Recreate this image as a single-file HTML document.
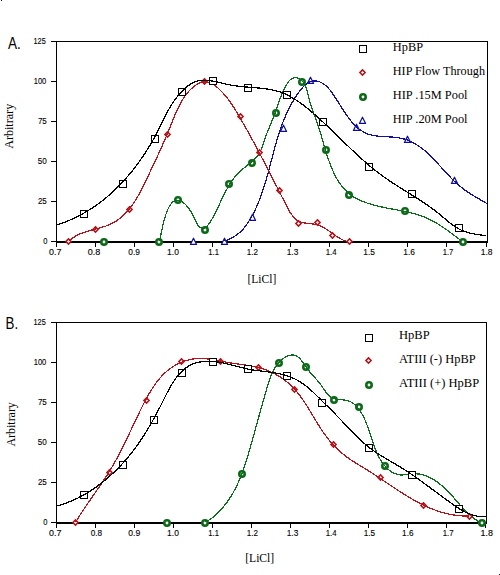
<!DOCTYPE html>
<html><head><meta charset="utf-8"><style>
html,body{margin:0;padding:0;background:#fff;width:500px;height:575px;overflow:hidden}
svg{display:block}
.t{font-family:"Liberation Sans",sans-serif;font-size:8.8px;fill:#000;stroke:#000;stroke-width:0.12px}
.s{font-family:"Liberation Serif",serif;font-size:12px;fill:#000}
.h{font-family:"Liberation Sans",sans-serif;font-size:16.5px;fill:#000}
</style></head><body>
<svg width="500" height="575" viewBox="0 0 500 575">
<rect width="500" height="575" fill="#fff"/>
<rect x="1" y="0" width="1" height="1" fill="#000"/><rect x="499" y="574" width="1" height="1" fill="#222"/>

<text class="t" x="47.5" y="244.2" text-anchor="end" textLength="4.2" lengthAdjust="spacingAndGlyphs">0</text>
<text class="t" x="46.8" y="204.2" text-anchor="end" textLength="8.9" lengthAdjust="spacingAndGlyphs">25</text>
<text class="t" x="46.8" y="164.2" text-anchor="end" textLength="9.0" lengthAdjust="spacingAndGlyphs">50</text>
<text class="t" x="46.8" y="124.2" text-anchor="end" textLength="8.9" lengthAdjust="spacingAndGlyphs">75</text>
<text class="t" x="46.3" y="84.2" text-anchor="end" textLength="12.6" lengthAdjust="spacingAndGlyphs">100</text>
<text class="t" x="45.8" y="44.2" text-anchor="end" textLength="12.3" lengthAdjust="spacingAndGlyphs">125</text>
<text class="t" x="49.1" y="255.2" textLength="12.4" lengthAdjust="spacingAndGlyphs">0.7</text>
<text class="t" x="87.7" y="255.2" textLength="12.6" lengthAdjust="spacingAndGlyphs">0.8</text>
<text class="t" x="128.3" y="255.2" textLength="11.6" lengthAdjust="spacingAndGlyphs">0.9</text>
<text class="t" x="167.1" y="255.2" textLength="11.8" lengthAdjust="spacingAndGlyphs">1.0</text>
<text class="t" x="208.3" y="255.2" textLength="10.6" lengthAdjust="spacingAndGlyphs">1.1</text>
<text class="t" x="246.7" y="255.2" textLength="11.2" lengthAdjust="spacingAndGlyphs">1.2</text>
<text class="t" x="286.7" y="255.2" textLength="11.6" lengthAdjust="spacingAndGlyphs">1.3</text>
<text class="t" x="325.7" y="255.2" textLength="10.8" lengthAdjust="spacingAndGlyphs">1.4</text>
<text class="t" x="363.3" y="255.2" textLength="11.6" lengthAdjust="spacingAndGlyphs">1.5</text>
<text class="t" x="403.3" y="255.2" textLength="11.6" lengthAdjust="spacingAndGlyphs">1.6</text>
<text class="t" x="442.7" y="255.2" textLength="10.6" lengthAdjust="spacingAndGlyphs">1.7</text>
<text class="t" x="480.7" y="255.2" textLength="11.8" lengthAdjust="spacingAndGlyphs">1.8</text>
<g shape-rendering="crispEdges" stroke="#000" fill="none">
<path d="M51 41.5 H487.5 V242" stroke-width="1"/>
<path d="M56.5 41 V247" stroke-width="1"/>
<path d="M56 242 H488" stroke-width="2"/>
<path d="M51 241.5 H56" stroke-width="1"/>
<path d="M51 201.5 H56" stroke-width="1"/>
<path d="M51 161.5 H56" stroke-width="1"/>
<path d="M51 121.5 H56" stroke-width="1"/>
<path d="M51 81.5 H56" stroke-width="1"/>
<path d="M51 41.5 H56" stroke-width="1"/>
<path d="M56.5 243 V247" stroke-width="1"/>
<path d="M95.5 243 V247" stroke-width="1"/>
<path d="M134.5 243 V247" stroke-width="1"/>
<path d="M173.5 243 V247" stroke-width="1"/>
<path d="M212.5 243 V247" stroke-width="1"/>
<path d="M251.5 243 V247" stroke-width="1"/>
<path d="M290.5 243 V247" stroke-width="1"/>
<path d="M329.5 243 V247" stroke-width="1"/>
<path d="M368.5 243 V247" stroke-width="1"/>
<path d="M407.5 243 V247" stroke-width="1"/>
<path d="M446.5 243 V247" stroke-width="1"/>
<path d="M486.5 243 V247" stroke-width="1"/>
</g>
<clipPath id="c0"><rect x="57" y="42" width="430" height="199"/></clipPath>
<path d="M193.5 238.2 L196.6 244.4 L190.4 244.4 z" fill="#fff" stroke="#0c0c96" stroke-width="1.2" stroke-linejoin="round"/>
<path d="M224.5 238.2 L227.6 244.4 L221.4 244.4 z" fill="#fff" stroke="#0c0c96" stroke-width="1.2" stroke-linejoin="round"/>
<path d="M252.5 214.2 L255.6 220.4 L249.4 220.4 z" fill="#fff" stroke="#0c0c96" stroke-width="1.2" stroke-linejoin="round"/>
<path d="M283.5 125.2 L286.6 131.4 L280.4 131.4 z" fill="#fff" stroke="#0c0c96" stroke-width="1.2" stroke-linejoin="round"/>
<path d="M310.5 77.2 L313.6 83.4 L307.4 83.4 z" fill="#fff" stroke="#0c0c96" stroke-width="1.2" stroke-linejoin="round"/>
<path d="M356.5 124.2 L359.6 130.4 L353.4 130.4 z" fill="#fff" stroke="#0c0c96" stroke-width="1.2" stroke-linejoin="round"/>
<path d="M407.5 136.2 L410.6 142.4 L404.4 142.4 z" fill="#fff" stroke="#0c0c96" stroke-width="1.2" stroke-linejoin="round"/>
<path d="M454.5 177.2 L457.6 183.4 L451.4 183.4 z" fill="#fff" stroke="#0c0c96" stroke-width="1.2" stroke-linejoin="round"/>
<path clip-path="url(#c0)" d="M193.59 241.60 L194.54 241.93 L195.51 242.23 L196.50 242.50 L197.51 242.74 L198.54 242.96 L199.58 243.15 L200.64 243.32 L201.72 243.46 L202.81 243.58 L203.91 243.67 L205.02 243.73 L206.14 243.77 L207.27 243.79 L208.41 243.77 L209.55 243.74 L210.70 243.68 L211.86 243.59 L213.01 243.48 L214.17 243.34 L215.32 243.18 L216.48 242.99 L217.63 242.78 L218.78 242.55 L219.93 242.29 L221.07 242.01 L222.20 241.70 L223.32 241.37 L224.44 241.01 L225.54 240.63 L226.63 240.23 L227.71 239.80 L228.78 239.35 L229.83 238.88 L230.86 238.38 L231.88 237.86 L232.87 237.31 L233.85 236.74 L234.81 236.15 L235.74 235.54 L236.65 234.90 L237.54 234.24 L238.40 233.56 L239.23 232.86 L240.05 232.13 L240.84 231.39 L241.62 230.63 L242.37 229.85 L243.10 229.05 L243.81 228.24 L244.51 227.41 L245.19 226.57 L245.85 225.71 L246.49 224.84 L247.12 223.96 L247.74 223.07 L248.34 222.17 L248.92 221.25 L249.50 220.33 L250.06 219.40 L250.62 218.46 L251.16 217.52 L251.69 216.57 L252.22 215.62 L252.73 214.66 L253.24 213.69 L253.73 212.73 L254.22 211.75 L254.70 210.77 L255.18 209.79 L255.64 208.80 L256.10 207.81 L256.55 206.82 L256.99 205.82 L257.43 204.81 L257.85 203.81 L258.27 202.80 L258.69 201.78 L259.10 200.76 L259.50 199.74 L259.89 198.71 L260.28 197.68 L260.67 196.65 L261.04 195.62 L261.42 194.58 L261.78 193.53 L262.15 192.49 L262.50 191.44 L262.85 190.39 L263.20 189.34 L263.54 188.28 L263.88 187.23 L264.22 186.17 L264.55 185.10 L264.87 184.04 L265.20 182.97 L265.52 181.90 L265.83 180.83 L266.15 179.76 L266.46 178.69 L266.76 177.61 L267.07 176.53 L267.37 175.45 L267.67 174.37 L267.97 173.29 L268.26 172.21 L268.56 171.13 L268.85 170.04 L269.14 168.96 L269.43 167.87 L269.72 166.79 L270.01 165.70 L270.29 164.61 L270.58 163.52 L270.87 162.44 L271.15 161.35 L271.44 160.26 L271.72 159.17 L272.01 158.08 L272.30 156.99 L272.58 155.91 L272.87 154.82 L273.16 153.73 L273.45 152.64 L273.74 151.56 L274.04 150.47 L274.33 149.39 L274.63 148.30 L274.92 147.22 L275.22 146.14 L275.53 145.06 L275.83 143.98 L276.14 142.90 L276.45 141.83 L276.76 140.75 L277.08 139.68 L277.40 138.61 L277.73 137.54 L278.05 136.47 L278.38 135.41 L278.72 134.34 L279.06 133.28 L279.41 132.22 L279.76 131.16 L280.11 130.10 L280.47 129.05 L280.83 127.99 L281.20 126.94 L281.58 125.89 L281.96 124.85 L282.35 123.80 L282.74 122.76 L283.14 121.72 L283.55 120.69 L283.96 119.65 L284.39 118.62 L284.81 117.59 L285.25 116.57 L285.69 115.54 L286.14 114.52 L286.60 113.50 L287.07 112.49 L287.54 111.47 L288.03 110.46 L288.52 109.46 L289.02 108.45 L289.53 107.45 L290.05 106.46 L290.58 105.46 L291.12 104.47 L291.66 103.48 L292.22 102.50 L292.79 101.52 L293.37 100.54 L293.96 99.57 L294.56 98.59 L295.17 97.63 L295.79 96.66 L296.42 95.70 L297.07 94.75 L297.73 93.80 L298.39 92.85 L299.07 91.90 L299.77 90.97 L300.47 90.05 L301.19 89.14 L301.92 88.26 L302.67 87.41 L303.43 86.59 L304.20 85.80 L304.99 85.06 L305.79 84.37 L306.61 83.72 L307.44 83.13 L308.29 82.60 L309.16 82.14 L310.04 81.75 L310.94 81.43 L311.85 81.19 L312.78 81.02 L313.71 80.93 L314.66 80.90 L315.61 80.95 L316.56 81.07 L317.52 81.25 L318.47 81.49 L319.41 81.80 L320.35 82.16 L321.28 82.59 L322.19 83.07 L323.08 83.60 L323.96 84.19 L324.82 84.83 L325.65 85.51 L326.47 86.24 L327.26 87.01 L328.04 87.82 L328.79 88.66 L329.54 89.53 L330.26 90.43 L330.98 91.36 L331.68 92.30 L332.37 93.27 L333.05 94.25 L333.72 95.24 L334.39 96.24 L335.05 97.24 L335.70 98.25 L336.35 99.26 L337.00 100.27 L337.64 101.28 L338.28 102.29 L338.91 103.30 L339.55 104.31 L340.18 105.32 L340.82 106.32 L341.45 107.32 L342.08 108.31 L342.72 109.30 L343.35 110.29 L343.99 111.26 L344.63 112.23 L345.27 113.19 L345.92 114.14 L346.57 115.08 L347.23 116.01 L347.89 116.93 L348.55 117.83 L349.23 118.73 L349.90 119.60 L350.59 120.47 L351.29 121.32 L351.99 122.15 L352.70 122.97 L353.42 123.77 L354.16 124.55 L354.90 125.31 L355.65 126.05 L356.42 126.77 L357.20 127.47 L357.99 128.14 L358.79 128.80 L359.61 129.43 L360.44 130.04 L361.29 130.62 L362.16 131.17 L363.03 131.70 L363.93 132.20 L364.84 132.67 L365.78 133.12 L366.72 133.53 L367.69 133.92 L368.68 134.27 L369.69 134.59 L370.71 134.88 L371.76 135.14 L372.82 135.37 L373.90 135.57 L375.00 135.75 L376.11 135.91 L377.23 136.05 L378.37 136.17 L379.51 136.28 L380.66 136.38 L381.82 136.46 L382.99 136.54 L384.16 136.61 L385.34 136.67 L386.51 136.74 L387.69 136.80 L388.87 136.87 L390.05 136.94 L391.23 137.02 L392.40 137.10 L393.57 137.20 L394.73 137.31 L395.89 137.44 L397.03 137.58 L398.17 137.74 L399.30 137.93 L400.41 138.14 L401.51 138.37 L402.59 138.63 L403.67 138.91 L404.73 139.22 L405.78 139.55 L406.81 139.91 L407.84 140.29 L408.85 140.69 L409.85 141.11 L410.83 141.55 L411.81 142.02 L412.78 142.50 L413.73 143.01 L414.67 143.53 L415.61 144.07 L416.53 144.63 L417.44 145.20 L418.35 145.80 L419.24 146.41 L420.12 147.03 L421.00 147.67 L421.86 148.33 L422.72 149.00 L423.57 149.68 L424.41 150.37 L425.25 151.08 L426.07 151.80 L426.90 152.53 L427.71 153.28 L428.52 154.03 L429.32 154.79 L430.12 155.56 L430.91 156.34 L431.70 157.13 L432.49 157.93 L433.27 158.73 L434.04 159.54 L434.82 160.35 L435.59 161.17 L436.36 162.00 L437.12 162.83 L437.89 163.66 L438.65 164.50 L439.41 165.33 L440.17 166.17 L440.93 167.02 L441.69 167.86 L442.45 168.70 L443.21 169.54 L443.97 170.38 L444.73 171.23 L445.50 172.06 L446.26 172.90 L447.03 173.73 L447.80 174.56 L448.58 175.39 L449.35 176.21 L450.13 177.02 L450.92 177.83 L451.71 178.64 L452.50 179.43 L453.30 180.22 L454.10 181.00 L454.91 181.77 L455.73 182.54 L456.55 183.29 L457.38 184.03 L458.21 184.77 L459.05 185.49 L459.90 186.20 L460.76 186.90 L461.62 187.58 L462.50 188.25 L463.38 188.92 L464.27 189.57 L465.16 190.21 L466.06 190.84 L466.97 191.47 L467.88 192.08 L468.80 192.69 L469.73 193.29 L470.66 193.89 L471.59 194.48 L472.53 195.06 L473.47 195.64 L474.42 196.22 L475.37 196.79 L476.33 197.36 L477.29 197.92 L478.25 198.49 L479.21 199.05 L480.18 199.61 L481.15 200.18 L482.12 200.74 L483.09 201.31 L484.06 201.87 L485.04 202.44 L486.01 203.01 L486.99 203.59" fill="none" stroke="#10109c" stroke-width="1.25" shape-rendering="crispEdges"/>
<circle cx="104.0" cy="242.0" r="2.7" fill="#fff" stroke="#0a6a16" stroke-width="2.6"/>
<circle cx="159.0" cy="242.0" r="2.7" fill="#fff" stroke="#0a6a16" stroke-width="2.6"/>
<circle cx="178.0" cy="200.0" r="2.7" fill="#fff" stroke="#0a6a16" stroke-width="2.6"/>
<circle cx="205.0" cy="230.0" r="2.7" fill="#fff" stroke="#0a6a16" stroke-width="2.6"/>
<circle cx="229.0" cy="184.0" r="2.7" fill="#fff" stroke="#0a6a16" stroke-width="2.6"/>
<circle cx="252.0" cy="163.0" r="2.7" fill="#fff" stroke="#0a6a16" stroke-width="2.6"/>
<circle cx="276.0" cy="113.0" r="2.7" fill="#fff" stroke="#0a6a16" stroke-width="2.6"/>
<circle cx="302.0" cy="82.0" r="2.7" fill="#fff" stroke="#0a6a16" stroke-width="2.6"/>
<circle cx="326.0" cy="150.0" r="2.7" fill="#fff" stroke="#0a6a16" stroke-width="2.6"/>
<circle cx="349.0" cy="195.0" r="2.7" fill="#fff" stroke="#0a6a16" stroke-width="2.6"/>
<circle cx="405.0" cy="211.0" r="2.7" fill="#fff" stroke="#0a6a16" stroke-width="2.6"/>
<circle cx="463.0" cy="242.0" r="2.7" fill="#fff" stroke="#0a6a16" stroke-width="2.6"/>
<path clip-path="url(#c0)" d="M103.99 242.01 L107.21 243.61 L110.29 245.10 L113.24 246.48 L116.06 247.75 L118.77 248.92 L121.35 249.98 L123.82 250.94 L126.18 251.80 L128.42 252.56 L130.56 253.22 L132.59 253.79 L134.53 254.27 L136.36 254.66 L138.10 254.95 L139.75 255.17 L141.31 255.30 L142.78 255.34 L144.18 255.31 L145.49 255.20 L146.72 255.02 L147.88 254.76 L148.97 254.43 L149.99 254.03 L150.95 253.56 L151.84 253.03 L152.68 252.43 L153.46 251.77 L154.19 251.06 L154.87 250.28 L155.50 249.45 L156.09 248.57 L156.64 247.64 L157.15 246.66 L157.63 245.63 L158.07 244.56 L158.49 243.44 L158.88 242.29 L159.25 241.09 L159.60 239.86 L159.94 238.60 L160.26 237.30 L160.57 235.97 L160.87 234.62 L161.17 233.24 L161.47 231.83 L161.77 230.41 L162.08 228.96 L162.39 227.49 L162.72 226.01 L163.05 224.52 L163.41 223.01 L163.79 221.50 L164.19 219.97 L164.61 218.44 L165.07 216.91 L165.55 215.38 L166.08 213.85 L166.63 212.33 L167.23 210.85 L167.86 209.40 L168.52 208.01 L169.23 206.70 L169.97 205.46 L170.75 204.32 L171.57 203.29 L172.43 202.38 L173.33 201.61 L174.27 200.99 L175.25 200.54 L176.27 200.26 L177.34 200.17 L178.44 200.28 L179.58 200.58 L180.74 201.06 L181.91 201.70 L183.08 202.49 L184.25 203.42 L185.41 204.46 L186.54 205.62 L187.63 206.88 L188.68 208.22 L189.68 209.62 L190.61 211.09 L191.48 212.59 L192.29 214.12 L193.05 215.66 L193.78 217.19 L194.48 218.69 L195.18 220.14 L195.87 221.53 L196.56 222.84 L197.28 224.05 L198.03 225.14 L198.82 226.10 L199.67 226.91 L200.58 227.55 L201.54 228.00 L202.53 228.23 L203.52 228.23 L204.50 227.97 L205.46 227.46 L206.39 226.75 L207.29 225.85 L208.18 224.81 L209.03 223.66 L209.87 222.43 L210.68 221.15 L211.47 219.86 L212.24 218.54 L212.98 217.20 L213.72 215.85 L214.43 214.49 L215.13 213.13 L215.82 211.76 L216.49 210.39 L217.15 209.03 L217.81 207.67 L218.46 206.31 L219.10 204.95 L219.73 203.60 L220.37 202.26 L221.00 200.91 L221.63 199.58 L222.26 198.25 L222.90 196.93 L223.54 195.62 L224.18 194.31 L224.83 193.02 L225.50 191.73 L226.16 190.45 L226.85 189.19 L227.54 187.94 L228.25 186.70 L228.97 185.47 L229.71 184.26 L230.47 183.06 L231.25 181.88 L232.05 180.71 L232.88 179.55 L233.73 178.42 L234.60 177.30 L235.50 176.20 L236.43 175.12 L237.39 174.06 L238.38 173.02 L239.41 172.00 L240.47 171.00 L241.56 170.02 L242.68 169.06 L243.82 168.11 L244.98 167.17 L246.14 166.24 L247.32 165.30 L248.48 164.37 L249.65 163.42 L250.80 162.47 L251.93 161.50 L253.03 160.52 L254.11 159.51 L255.15 158.48 L256.15 157.42 L257.10 156.33 L258.00 155.20 L258.84 154.02 L259.61 152.81 L260.32 151.55 L260.94 150.23 L261.50 148.86 L261.99 147.46 L262.45 146.03 L262.89 144.59 L263.34 143.16 L263.81 141.73 L264.28 140.32 L264.78 138.93 L265.28 137.54 L265.80 136.16 L266.32 134.78 L266.85 133.42 L267.39 132.06 L267.94 130.71 L268.49 129.36 L269.04 128.01 L269.60 126.67 L270.15 125.33 L270.71 124.00 L271.26 122.66 L271.81 121.33 L272.35 119.99 L272.89 118.65 L273.43 117.31 L273.95 115.96 L274.47 114.61 L274.97 113.26 L275.46 111.90 L275.94 110.53 L276.42 109.16 L276.89 107.78 L277.35 106.40 L277.82 105.02 L278.29 103.64 L278.77 102.25 L279.25 100.86 L279.75 99.48 L280.25 98.09 L280.78 96.71 L281.32 95.32 L281.89 93.95 L282.48 92.57 L283.09 91.20 L283.74 89.83 L284.42 88.47 L285.14 87.11 L285.89 85.77 L286.68 84.43 L287.52 83.11 L288.40 81.87 L289.34 80.71 L290.34 79.70 L291.40 78.85 L292.52 78.20 L293.71 77.79 L294.95 77.61 L296.21 77.68 L297.49 77.99 L298.74 78.51 L299.96 79.22 L301.11 80.09 L302.18 81.09 L303.13 82.20 L303.98 83.41 L304.73 84.69 L305.40 86.04 L306.00 87.46 L306.53 88.92 L307.00 90.43 L307.44 91.96 L307.83 93.51 L308.21 95.06 L308.57 96.61 L308.93 98.14 L309.30 99.65 L309.68 101.12 L310.08 102.56 L310.49 103.97 L310.91 105.34 L311.35 106.70 L311.80 108.03 L312.25 109.35 L312.71 110.65 L313.18 111.94 L313.66 113.21 L314.13 114.49 L314.61 115.76 L315.09 117.03 L315.57 118.30 L316.04 119.58 L316.51 120.87 L316.97 122.17 L317.43 123.49 L317.88 124.82 L318.33 126.17 L318.77 127.53 L319.20 128.91 L319.63 130.30 L320.06 131.70 L320.48 133.11 L320.90 134.54 L321.32 135.97 L321.74 137.41 L322.16 138.85 L322.58 140.30 L323.00 141.76 L323.43 143.22 L323.85 144.69 L324.28 146.15 L324.72 147.62 L325.15 149.09 L325.60 150.56 L326.05 152.02 L326.50 153.49 L326.97 154.95 L327.44 156.41 L327.92 157.86 L328.41 159.30 L328.92 160.74 L329.43 162.17 L329.95 163.59 L330.49 165.00 L331.04 166.40 L331.60 167.79 L332.18 169.17 L332.77 170.53 L333.38 171.88 L334.01 173.21 L334.65 174.52 L335.31 175.82 L335.99 177.10 L336.69 178.36 L337.41 179.60 L338.15 180.82 L338.91 182.02 L339.70 183.19 L340.50 184.34 L341.33 185.47 L342.18 186.56 L343.06 187.64 L343.97 188.68 L344.90 189.70 L345.86 190.68 L346.84 191.64 L347.85 192.56 L348.90 193.45 L349.97 194.31 L351.07 195.13 L352.20 195.93 L353.36 196.69 L354.55 197.41 L355.76 198.11 L356.99 198.78 L358.25 199.43 L359.54 200.04 L360.84 200.63 L362.16 201.20 L363.51 201.74 L364.87 202.26 L366.24 202.75 L367.64 203.23 L369.05 203.69 L370.47 204.12 L371.90 204.54 L373.35 204.95 L374.81 205.34 L376.28 205.71 L377.75 206.07 L379.23 206.42 L380.72 206.75 L382.22 207.08 L383.72 207.39 L385.22 207.70 L386.72 208.00 L388.22 208.29 L389.73 208.58 L391.23 208.87 L392.73 209.15 L394.23 209.42 L395.72 209.70 L397.20 209.97 L398.68 210.25 L400.15 210.53 L401.62 210.81 L403.07 211.09 L404.51 211.38 L405.94 211.68 L407.36 211.98 L408.76 212.29 L410.16 212.61 L411.54 212.94 L412.92 213.29 L414.29 213.65 L415.64 214.02 L416.99 214.42 L418.34 214.83 L419.67 215.26 L421.01 215.72 L422.33 216.20 L423.65 216.71 L424.97 217.24 L426.29 217.81 L427.60 218.40 L428.91 219.02 L430.21 219.66 L431.51 220.33 L432.81 221.03 L434.10 221.75 L435.39 222.49 L436.67 223.24 L437.95 224.02 L439.22 224.81 L440.49 225.62 L441.75 226.44 L443.00 227.27 L444.24 228.11 L445.48 228.97 L446.71 229.83 L447.93 230.70 L449.14 231.57 L450.34 232.44 L451.54 233.32 L452.72 234.20 L453.90 235.08 L455.06 235.96 L456.21 236.83 L457.35 237.70 L458.49 238.56 L459.60 239.41 L460.71 240.25 L461.81 241.09 L462.89 241.91" fill="none" stroke="#0c6e1c" stroke-width="1.25" shape-rendering="crispEdges"/>
<path d="M68.5 238.9 l2.6 2.6 l-2.6 2.6 l-2.6 -2.6 z" fill="#fff" stroke="#b01018" stroke-width="1.5"/>
<path d="M95.5 226.9 l2.6 2.6 l-2.6 2.6 l-2.6 -2.6 z" fill="#fff" stroke="#b01018" stroke-width="1.5"/>
<path d="M129.5 206.9 l2.6 2.6 l-2.6 2.6 l-2.6 -2.6 z" fill="#fff" stroke="#b01018" stroke-width="1.5"/>
<path d="M167.5 131.9 l2.6 2.6 l-2.6 2.6 l-2.6 -2.6 z" fill="#fff" stroke="#b01018" stroke-width="1.5"/>
<path d="M204.5 78.9 l2.6 2.6 l-2.6 2.6 l-2.6 -2.6 z" fill="#fff" stroke="#b01018" stroke-width="1.5"/>
<path d="M240.5 113.9 l2.6 2.6 l-2.6 2.6 l-2.6 -2.6 z" fill="#fff" stroke="#b01018" stroke-width="1.5"/>
<path d="M259.5 149.9 l2.6 2.6 l-2.6 2.6 l-2.6 -2.6 z" fill="#fff" stroke="#b01018" stroke-width="1.5"/>
<path d="M279.5 187.9 l2.6 2.6 l-2.6 2.6 l-2.6 -2.6 z" fill="#fff" stroke="#b01018" stroke-width="1.5"/>
<path d="M298.5 220.9 l2.6 2.6 l-2.6 2.6 l-2.6 -2.6 z" fill="#fff" stroke="#b01018" stroke-width="1.5"/>
<path d="M317.5 219.9 l2.6 2.6 l-2.6 2.6 l-2.6 -2.6 z" fill="#fff" stroke="#b01018" stroke-width="1.5"/>
<path d="M332.5 232.9 l2.6 2.6 l-2.6 2.6 l-2.6 -2.6 z" fill="#fff" stroke="#b01018" stroke-width="1.5"/>
<path d="M349.5 238.9 l2.6 2.6 l-2.6 2.6 l-2.6 -2.6 z" fill="#fff" stroke="#b01018" stroke-width="1.5"/>
<path clip-path="url(#c0)" d="M68.87 241.68 L69.62 240.86 L70.40 240.08 L71.20 239.33 L72.04 238.62 L72.91 237.95 L73.80 237.32 L74.71 236.71 L75.65 236.14 L76.61 235.59 L77.58 235.07 L78.58 234.58 L79.60 234.11 L80.63 233.67 L81.68 233.25 L82.75 232.84 L83.83 232.45 L84.92 232.08 L86.02 231.73 L87.12 231.38 L88.24 231.05 L89.37 230.73 L90.50 230.41 L91.63 230.11 L92.77 229.80 L93.91 229.50 L95.06 229.20 L96.20 228.90 L97.34 228.60 L98.47 228.29 L99.61 227.98 L100.74 227.67 L101.86 227.34 L102.97 227.00 L104.08 226.66 L105.17 226.29 L106.25 225.92 L107.32 225.52 L108.38 225.11 L109.42 224.68 L110.45 224.23 L111.46 223.75 L112.45 223.25 L113.42 222.73 L114.38 222.19 L115.32 221.63 L116.24 221.04 L117.15 220.44 L118.04 219.81 L118.92 219.17 L119.79 218.50 L120.63 217.82 L121.47 217.12 L122.29 216.40 L123.09 215.66 L123.89 214.91 L124.67 214.14 L125.43 213.36 L126.19 212.56 L126.93 211.74 L127.66 210.91 L128.38 210.07 L129.08 209.21 L129.78 208.35 L130.46 207.46 L131.14 206.57 L131.80 205.66 L132.45 204.75 L133.10 203.82 L133.73 202.88 L134.36 201.93 L134.98 200.98 L135.58 200.01 L136.18 199.04 L136.78 198.05 L137.36 197.07 L137.94 196.07 L138.51 195.07 L139.07 194.06 L139.63 193.04 L140.18 192.02 L140.73 191.00 L141.27 189.97 L141.80 188.94 L142.33 187.91 L142.85 186.87 L143.38 185.83 L143.89 184.79 L144.40 183.74 L144.91 182.70 L145.42 181.65 L145.92 180.61 L146.42 179.57 L146.92 178.52 L147.42 177.48 L147.91 176.44 L148.40 175.40 L148.90 174.37 L149.39 173.34 L149.87 172.31 L150.36 171.28 L150.85 170.25 L151.33 169.23 L151.82 168.21 L152.30 167.19 L152.78 166.17 L153.26 165.15 L153.74 164.13 L154.22 163.12 L154.69 162.10 L155.17 161.09 L155.64 160.08 L156.11 159.07 L156.58 158.05 L157.05 157.04 L157.52 156.03 L157.99 155.02 L158.45 154.01 L158.91 153.00 L159.38 151.98 L159.84 150.97 L160.30 149.96 L160.76 148.94 L161.21 147.93 L161.67 146.91 L162.12 145.90 L162.57 144.88 L163.03 143.86 L163.48 142.84 L163.92 141.81 L164.37 140.79 L164.82 139.76 L165.26 138.73 L165.71 137.70 L166.15 136.67 L166.59 135.63 L167.03 134.59 L167.46 133.55 L167.90 132.51 L168.33 131.46 L168.77 130.41 L169.20 129.36 L169.63 128.30 L170.06 127.24 L170.48 126.18 L170.91 125.11 L171.34 124.04 L171.76 122.96 L172.19 121.89 L172.61 120.81 L173.04 119.73 L173.47 118.65 L173.91 117.58 L174.35 116.50 L174.79 115.42 L175.24 114.35 L175.69 113.28 L176.15 112.21 L176.62 111.15 L177.10 110.09 L177.58 109.04 L178.08 107.99 L178.58 106.95 L179.10 105.91 L179.62 104.89 L180.16 103.87 L180.71 102.86 L181.27 101.85 L181.85 100.86 L182.44 99.88 L183.05 98.91 L183.67 97.95 L184.31 97.01 L184.97 96.07 L185.64 95.15 L186.34 94.25 L187.05 93.36 L187.78 92.48 L188.54 91.62 L189.31 90.78 L190.11 89.95 L190.93 89.14 L191.77 88.35 L192.63 87.59 L193.51 86.85 L194.40 86.15 L195.31 85.49 L196.24 84.87 L197.18 84.30 L198.13 83.78 L199.08 83.31 L200.05 82.91 L201.02 82.57 L202.00 82.30 L202.98 82.10 L203.96 81.98 L204.94 81.94 L205.92 81.98 L206.89 82.10 L207.87 82.30 L208.84 82.56 L209.80 82.89 L210.77 83.28 L211.72 83.74 L212.67 84.25 L213.61 84.81 L214.55 85.42 L215.47 86.07 L216.39 86.77 L217.29 87.50 L218.19 88.27 L219.07 89.06 L219.94 89.89 L220.80 90.74 L221.64 91.60 L222.47 92.49 L223.29 93.39 L224.08 94.29 L224.86 95.20 L225.63 96.12 L226.37 97.03 L227.10 97.95 L227.82 98.87 L228.52 99.80 L229.21 100.73 L229.88 101.66 L230.55 102.59 L231.20 103.53 L231.84 104.47 L232.47 105.41 L233.09 106.35 L233.70 107.29 L234.30 108.24 L234.90 109.19 L235.49 110.14 L236.07 111.10 L236.65 112.05 L237.23 113.01 L237.80 113.97 L238.36 114.93 L238.93 115.89 L239.49 116.86 L240.06 117.82 L240.62 118.79 L241.18 119.76 L241.74 120.73 L242.29 121.71 L242.85 122.68 L243.41 123.65 L243.96 124.63 L244.52 125.61 L245.07 126.59 L245.62 127.57 L246.17 128.55 L246.72 129.54 L247.27 130.52 L247.82 131.51 L248.37 132.49 L248.91 133.48 L249.46 134.47 L250.00 135.46 L250.54 136.45 L251.09 137.44 L251.63 138.43 L252.17 139.43 L252.71 140.42 L253.25 141.42 L253.79 142.41 L254.32 143.41 L254.86 144.41 L255.39 145.41 L255.93 146.41 L256.46 147.41 L257.00 148.41 L257.53 149.41 L258.06 150.41 L258.59 151.41 L259.12 152.41 L259.65 153.42 L260.18 154.42 L260.71 155.43 L261.23 156.43 L261.76 157.43 L262.28 158.44 L262.81 159.44 L263.33 160.45 L263.86 161.45 L264.38 162.46 L264.90 163.47 L265.42 164.47 L265.94 165.48 L266.46 166.48 L266.98 167.49 L267.50 168.50 L268.02 169.50 L268.53 170.51 L269.05 171.51 L269.57 172.52 L270.08 173.53 L270.60 174.53 L271.11 175.54 L271.63 176.55 L272.14 177.56 L272.66 178.56 L273.17 179.57 L273.69 180.58 L274.20 181.59 L274.72 182.60 L275.23 183.61 L275.75 184.63 L276.26 185.64 L276.78 186.65 L277.30 187.67 L277.81 188.68 L278.33 189.70 L278.85 190.72 L279.36 191.74 L279.88 192.76 L280.40 193.78 L280.92 194.80 L281.44 195.83 L281.96 196.85 L282.48 197.88 L283.01 198.91 L283.53 199.94 L284.06 200.97 L284.58 202.00 L285.11 203.04 L285.64 204.07 L286.17 205.11 L286.70 206.15 L287.24 207.18 L287.78 208.21 L288.33 209.23 L288.89 210.23 L289.46 211.22 L290.04 212.19 L290.64 213.13 L291.25 214.05 L291.89 214.94 L292.54 215.80 L293.21 216.62 L293.90 217.41 L294.62 218.15 L295.36 218.84 L296.13 219.49 L296.94 220.09 L297.77 220.63 L298.63 221.12 L299.53 221.54 L300.46 221.91 L301.42 222.23 L302.41 222.50 L303.42 222.73 L304.45 222.94 L305.50 223.11 L306.56 223.26 L307.63 223.40 L308.71 223.53 L309.80 223.65 L310.89 223.78 L311.98 223.92 L313.06 224.07 L314.13 224.24 L315.20 224.44 L316.25 224.68 L317.29 224.95 L318.31 225.26 L319.31 225.61 L320.30 226.00 L321.28 226.42 L322.24 226.88 L323.19 227.36 L324.13 227.88 L325.06 228.41 L325.98 228.97 L326.90 229.56 L327.81 230.16 L328.72 230.77 L329.62 231.40 L330.52 232.04 L331.43 232.69 L332.33 233.34 L333.24 234.00 L334.15 234.66 L335.06 235.31 L335.99 235.96 L336.92 236.59 L337.87 237.21 L338.82 237.81 L339.80 238.39 L340.79 238.93 L341.80 239.44 L342.83 239.91 L343.88 240.34 L344.96 240.73 L346.07 241.06 L347.20 241.34 L348.37 241.56 L349.57 241.71" fill="none" stroke="#bb1219" stroke-width="1.25" shape-rendering="crispEdges"/>
<rect x="80.5" y="210.5" width="7" height="7" fill="#fff" stroke="#000" stroke-width="1"/>
<rect x="119.5" y="180.5" width="7" height="7" fill="#fff" stroke="#000" stroke-width="1"/>
<rect x="151.5" y="135.5" width="7" height="7" fill="#fff" stroke="#000" stroke-width="1"/>
<rect x="178.5" y="88.5" width="7" height="7" fill="#fff" stroke="#000" stroke-width="1"/>
<rect x="209.5" y="77.5" width="7" height="7" fill="#fff" stroke="#000" stroke-width="1"/>
<rect x="244.5" y="84.5" width="7" height="7" fill="#fff" stroke="#000" stroke-width="1"/>
<rect x="283.5" y="91.5" width="7" height="7" fill="#fff" stroke="#000" stroke-width="1"/>
<rect x="319.5" y="118.5" width="7" height="7" fill="#fff" stroke="#000" stroke-width="1"/>
<rect x="365.5" y="163.5" width="7" height="7" fill="#fff" stroke="#000" stroke-width="1"/>
<rect x="408.5" y="190.5" width="7" height="7" fill="#fff" stroke="#000" stroke-width="1"/>
<rect x="455.5" y="224.5" width="7" height="7" fill="#fff" stroke="#000" stroke-width="1"/>
<path clip-path="url(#c0)" d="M55.79 225.28 L57.13 224.86 L58.47 224.42 L59.80 223.98 L61.12 223.52 L62.44 223.05 L63.75 222.57 L65.05 222.08 L66.34 221.57 L67.63 221.05 L68.90 220.52 L70.18 219.97 L71.44 219.42 L72.70 218.85 L73.95 218.27 L75.19 217.68 L76.42 217.08 L77.65 216.47 L78.87 215.84 L80.08 215.21 L81.29 214.56 L82.49 213.90 L83.68 213.23 L84.86 212.55 L86.04 211.86 L87.21 211.16 L88.37 210.45 L89.53 209.73 L90.68 209.00 L91.82 208.26 L92.95 207.51 L94.08 206.74 L95.20 205.97 L96.31 205.19 L97.42 204.40 L98.52 203.60 L99.61 202.79 L100.70 201.97 L101.77 201.14 L102.84 200.31 L103.91 199.46 L104.96 198.61 L106.01 197.74 L107.06 196.87 L108.09 195.99 L109.12 195.10 L110.14 194.20 L111.16 193.30 L112.16 192.38 L113.16 191.46 L114.16 190.53 L115.14 189.59 L116.12 188.65 L117.10 187.70 L118.06 186.74 L119.02 185.77 L119.97 184.79 L120.92 183.81 L121.86 182.82 L122.79 181.82 L123.71 180.82 L124.63 179.81 L125.54 178.80 L126.44 177.77 L127.34 176.74 L128.23 175.71 L129.11 174.66 L129.99 173.62 L130.86 172.56 L131.72 171.50 L132.58 170.44 L133.43 169.36 L134.27 168.29 L135.11 167.20 L135.94 166.12 L136.76 165.02 L137.57 163.92 L138.38 162.82 L139.19 161.71 L139.98 160.60 L140.77 159.48 L141.55 158.36 L142.33 157.23 L143.10 156.10 L143.86 154.96 L144.61 153.82 L145.36 152.68 L146.10 151.53 L146.84 150.37 L147.57 149.22 L148.29 148.06 L149.00 146.90 L149.71 145.73 L150.41 144.56 L151.10 143.39 L151.78 142.21 L152.46 141.03 L153.13 139.85 L153.79 138.67 L154.44 137.49 L155.08 136.30 L155.72 135.11 L156.34 133.92 L156.96 132.73 L157.57 131.54 L158.17 130.34 L158.76 129.15 L159.35 127.95 L159.94 126.75 L160.52 125.56 L161.10 124.36 L161.68 123.16 L162.26 121.96 L162.85 120.76 L163.44 119.56 L164.03 118.36 L164.63 117.16 L165.23 115.96 L165.85 114.77 L166.47 113.57 L167.11 112.37 L167.76 111.18 L168.42 109.99 L169.09 108.79 L169.78 107.60 L170.49 106.41 L171.22 105.23 L171.97 104.04 L172.74 102.86 L173.53 101.68 L174.34 100.50 L175.18 99.33 L176.04 98.17 L176.91 97.02 L177.81 95.88 L178.73 94.77 L179.67 93.67 L180.63 92.60 L181.61 91.56 L182.61 90.54 L183.63 89.55 L184.66 88.60 L185.72 87.69 L186.79 86.82 L187.87 85.99 L188.98 85.20 L190.10 84.46 L191.23 83.78 L192.39 83.15 L193.55 82.57 L194.73 82.06 L195.93 81.60 L197.14 81.21 L198.36 80.89 L199.60 80.64 L200.85 80.45 L202.11 80.32 L203.38 80.26 L204.66 80.24 L205.96 80.28 L207.26 80.36 L208.58 80.48 L209.90 80.64 L211.23 80.84 L212.57 81.06 L213.92 81.32 L215.28 81.59 L216.64 81.89 L218.01 82.20 L219.38 82.52 L220.76 82.85 L222.15 83.18 L223.54 83.51 L224.93 83.84 L226.33 84.16 L227.72 84.47 L229.13 84.76 L230.53 85.03 L231.93 85.28 L233.34 85.52 L234.75 85.73 L236.15 85.93 L237.56 86.11 L238.97 86.28 L240.37 86.44 L241.78 86.59 L243.19 86.72 L244.59 86.85 L245.99 86.97 L247.39 87.09 L248.79 87.20 L250.19 87.31 L251.58 87.42 L252.97 87.53 L254.36 87.64 L255.74 87.75 L257.12 87.87 L258.49 87.99 L259.86 88.12 L261.23 88.26 L262.59 88.41 L263.94 88.57 L265.29 88.74 L266.63 88.93 L267.97 89.13 L269.30 89.35 L270.62 89.59 L271.93 89.84 L273.24 90.12 L274.54 90.42 L275.83 90.74 L277.11 91.09 L278.38 91.47 L279.64 91.87 L280.90 92.30 L282.14 92.76 L283.38 93.25 L284.60 93.77 L285.82 94.31 L287.03 94.88 L288.23 95.47 L289.42 96.09 L290.60 96.72 L291.78 97.39 L292.95 98.07 L294.10 98.77 L295.26 99.49 L296.40 100.23 L297.54 100.98 L298.67 101.76 L299.79 102.55 L300.90 103.35 L302.01 104.16 L303.12 104.99 L304.21 105.84 L305.31 106.69 L306.39 107.55 L307.47 108.42 L308.54 109.30 L309.61 110.19 L310.68 111.08 L311.73 111.98 L312.79 112.89 L313.84 113.80 L314.88 114.71 L315.92 115.63 L316.96 116.55 L317.99 117.47 L319.02 118.40 L320.04 119.33 L321.06 120.26 L322.08 121.19 L323.09 122.13 L324.10 123.07 L325.11 124.01 L326.12 124.96 L327.12 125.91 L328.12 126.85 L329.12 127.80 L330.11 128.76 L331.11 129.71 L332.10 130.66 L333.09 131.62 L334.08 132.57 L335.07 133.53 L336.05 134.48 L337.04 135.44 L338.02 136.40 L339.01 137.36 L339.99 138.31 L340.97 139.27 L341.95 140.22 L342.94 141.18 L343.92 142.13 L344.90 143.09 L345.89 144.04 L346.87 144.99 L347.85 145.94 L348.84 146.89 L349.83 147.83 L350.81 148.78 L351.80 149.72 L352.79 150.66 L353.79 151.60 L354.78 152.53 L355.78 153.46 L356.77 154.39 L357.77 155.32 L358.78 156.24 L359.78 157.16 L360.79 158.07 L361.80 158.98 L362.82 159.89 L363.83 160.79 L364.85 161.69 L365.88 162.59 L366.91 163.48 L367.94 164.36 L368.98 165.24 L370.02 166.12 L371.06 166.99 L372.11 167.85 L373.16 168.71 L374.22 169.56 L375.29 170.41 L376.35 171.25 L377.43 172.09 L378.51 172.91 L379.59 173.74 L380.68 174.55 L381.78 175.36 L382.88 176.16 L383.99 176.96 L385.10 177.74 L386.22 178.53 L387.35 179.30 L388.48 180.07 L389.61 180.84 L390.75 181.60 L391.89 182.36 L393.04 183.11 L394.19 183.86 L395.34 184.60 L396.49 185.34 L397.65 186.08 L398.81 186.82 L399.97 187.55 L401.13 188.29 L402.30 189.02 L403.46 189.75 L404.63 190.48 L405.80 191.20 L406.97 191.93 L408.13 192.66 L409.30 193.39 L410.47 194.12 L411.63 194.85 L412.80 195.58 L413.96 196.31 L415.13 197.05 L416.29 197.79 L417.44 198.53 L418.60 199.27 L419.75 200.02 L420.90 200.77 L422.05 201.52 L423.20 202.28 L424.34 203.05 L425.47 203.82 L426.60 204.59 L427.73 205.37 L428.85 206.16 L429.97 206.95 L431.08 207.75 L432.19 208.55 L433.29 209.37 L434.38 210.19 L435.47 211.02 L436.55 211.85 L437.62 212.70 L438.69 213.55 L439.75 214.42 L440.80 215.29 L441.84 216.16 L442.89 217.04 L443.93 217.92 L444.97 218.80 L446.01 219.68 L447.06 220.55 L448.11 221.41 L449.16 222.26 L450.23 223.10 L451.30 223.93 L452.38 224.73 L453.48 225.52 L454.59 226.28 L455.71 227.03 L456.85 227.74 L458.01 228.43 L459.19 229.08 L460.39 229.70 L461.62 230.29 L462.87 230.84 L464.14 231.35 L465.45 231.82 L466.78 232.24 L468.14 232.62 L469.51 232.97 L470.91 233.29 L472.32 233.58 L473.74 233.84 L475.16 234.09 L476.58 234.32 L478.00 234.55 L479.42 234.76 L480.82 234.98 L482.21 235.19 L483.58 235.41 L484.93 235.65 L486.25 235.89" fill="none" stroke="#000" stroke-width="1.25" shape-rendering="crispEdges"/>
<rect x="359.5" y="45.5" width="7" height="7" fill="#fff" stroke="#000" stroke-width="1"/>
<text class="s" x="392.8" y="50.5" textLength="30.2" lengthAdjust="spacingAndGlyphs">HpBP</text>
<path d="M362.5 69.9 l2.6 2.6 l-2.6 2.6 l-2.6 -2.6 z" fill="#fff" stroke="#b01018" stroke-width="1.5"/>
<text class="s" x="392.8" y="75.0" textLength="92.2" lengthAdjust="spacingAndGlyphs">HIP Flow Through</text>
<circle cx="363.0" cy="97.0" r="2.7" fill="#fff" stroke="#0a6a16" stroke-width="2.6"/>
<text class="s" x="392.8" y="98.9" textLength="74.7" lengthAdjust="spacingAndGlyphs">HIP .15M Pool</text>
<path d="M362.5 117.2 L365.6 123.4 L359.4 123.4 z" fill="#fff" stroke="#0c0c96" stroke-width="1.2" stroke-linejoin="round"/>
<text class="s" x="392.8" y="122.9" textLength="74.7" lengthAdjust="spacingAndGlyphs">HIP .20M Pool</text>
<text class="s" transform="translate(12.5 148.8) rotate(-90)" x="0" y="0" textLength="45.0" lengthAdjust="spacingAndGlyphs">Arbitrary</text>
<text class="h" x="8.0" y="48.6" textLength="12.8" lengthAdjust="spacingAndGlyphs">A.</text>
<text class="s" x="247.4" y="282.8" textLength="28.9" lengthAdjust="spacingAndGlyphs">[LiCl]</text>
<text class="t" x="47.5" y="525.2" text-anchor="end" textLength="4.2" lengthAdjust="spacingAndGlyphs">0</text>
<text class="t" x="46.8" y="485.2" text-anchor="end" textLength="8.9" lengthAdjust="spacingAndGlyphs">25</text>
<text class="t" x="46.8" y="445.2" text-anchor="end" textLength="9.0" lengthAdjust="spacingAndGlyphs">50</text>
<text class="t" x="46.8" y="405.2" text-anchor="end" textLength="8.9" lengthAdjust="spacingAndGlyphs">75</text>
<text class="t" x="46.3" y="365.2" text-anchor="end" textLength="12.6" lengthAdjust="spacingAndGlyphs">100</text>
<text class="t" x="45.8" y="325.2" text-anchor="end" textLength="12.3" lengthAdjust="spacingAndGlyphs">125</text>
<text class="t" x="49.1" y="536.2" textLength="12.4" lengthAdjust="spacingAndGlyphs">0.7</text>
<text class="t" x="90.7" y="536.2" textLength="11.4" lengthAdjust="spacingAndGlyphs">0.8</text>
<text class="t" x="128.3" y="536.2" textLength="12.0" lengthAdjust="spacingAndGlyphs">0.9</text>
<text class="t" x="167.1" y="536.2" textLength="11.8" lengthAdjust="spacingAndGlyphs">1.0</text>
<text class="t" x="208.3" y="536.2" textLength="10.6" lengthAdjust="spacingAndGlyphs">1.1</text>
<text class="t" x="246.7" y="536.2" textLength="11.2" lengthAdjust="spacingAndGlyphs">1.2</text>
<text class="t" x="286.7" y="536.2" textLength="11.6" lengthAdjust="spacingAndGlyphs">1.3</text>
<text class="t" x="325.7" y="536.2" textLength="10.8" lengthAdjust="spacingAndGlyphs">1.4</text>
<text class="t" x="363.7" y="536.2" textLength="11.4" lengthAdjust="spacingAndGlyphs">1.5</text>
<text class="t" x="402.1" y="536.2" textLength="11.4" lengthAdjust="spacingAndGlyphs">1.6</text>
<text class="t" x="442.7" y="536.2" textLength="10.8" lengthAdjust="spacingAndGlyphs">1.7</text>
<text class="t" x="480.5" y="536.2" textLength="12.4" lengthAdjust="spacingAndGlyphs">1.8</text>
<g shape-rendering="crispEdges" stroke="#000" fill="none">
<path d="M51 322.5 H486.5 V523" stroke-width="1"/>
<path d="M56.5 322 V528" stroke-width="1"/>
<path d="M56 523 H487" stroke-width="2"/>
<path d="M51 522.5 H56" stroke-width="1"/>
<path d="M51 482.5 H56" stroke-width="1"/>
<path d="M51 442.5 H56" stroke-width="1"/>
<path d="M51 402.5 H56" stroke-width="1"/>
<path d="M51 362.5 H56" stroke-width="1"/>
<path d="M51 322.5 H56" stroke-width="1"/>
<path d="M56.5 524 V528" stroke-width="1"/>
<path d="M95.5 524 V528" stroke-width="1"/>
<path d="M134.5 524 V528" stroke-width="1"/>
<path d="M173.5 524 V528" stroke-width="1"/>
<path d="M212.5 524 V528" stroke-width="1"/>
<path d="M251.5 524 V528" stroke-width="1"/>
<path d="M290.5 524 V528" stroke-width="1"/>
<path d="M329.5 524 V528" stroke-width="1"/>
<path d="M368.5 524 V528" stroke-width="1"/>
<path d="M407.5 524 V528" stroke-width="1"/>
<path d="M446.5 524 V528" stroke-width="1"/>
<path d="M485.5 524 V528" stroke-width="1"/>
</g>
<clipPath id="c281"><rect x="57" y="323" width="429" height="199"/></clipPath>
<circle cx="167.0" cy="523.0" r="2.7" fill="#fff" stroke="#0a6a16" stroke-width="2.6"/>
<circle cx="205.0" cy="523.0" r="2.7" fill="#fff" stroke="#0a6a16" stroke-width="2.6"/>
<circle cx="242.0" cy="474.0" r="2.7" fill="#fff" stroke="#0a6a16" stroke-width="2.6"/>
<circle cx="279.0" cy="363.0" r="2.7" fill="#fff" stroke="#0a6a16" stroke-width="2.6"/>
<circle cx="306.0" cy="367.0" r="2.7" fill="#fff" stroke="#0a6a16" stroke-width="2.6"/>
<circle cx="334.0" cy="400.0" r="2.7" fill="#fff" stroke="#0a6a16" stroke-width="2.6"/>
<circle cx="359.0" cy="407.0" r="2.7" fill="#fff" stroke="#0a6a16" stroke-width="2.6"/>
<circle cx="385.0" cy="466.0" r="2.7" fill="#fff" stroke="#0a6a16" stroke-width="2.6"/>
<circle cx="482.0" cy="523.0" r="2.7" fill="#fff" stroke="#0a6a16" stroke-width="2.6"/>
<path clip-path="url(#c281)" d="M167.01 523.02 L168.41 523.69 L169.80 524.30 L171.18 524.86 L172.56 525.37 L173.92 525.82 L175.28 526.22 L176.63 526.57 L177.97 526.86 L179.30 527.11 L180.62 527.31 L181.93 527.47 L183.23 527.57 L184.53 527.63 L185.81 527.65 L187.08 527.62 L188.35 527.55 L189.60 527.44 L190.84 527.28 L192.07 527.09 L193.29 526.85 L194.50 526.58 L195.70 526.27 L196.89 525.93 L198.06 525.54 L199.23 525.13 L200.38 524.68 L201.52 524.19 L202.65 523.68 L203.76 523.13 L204.86 522.55 L205.95 521.95 L207.03 521.31 L208.10 520.65 L209.15 519.96 L210.19 519.25 L211.21 518.51 L212.22 517.75 L213.22 516.96 L214.21 516.15 L215.17 515.32 L216.13 514.47 L217.07 513.61 L218.00 512.72 L218.91 511.81 L219.81 510.89 L220.69 509.96 L221.55 509.01 L222.40 508.04 L223.24 507.06 L224.06 506.07 L224.86 505.07 L225.65 504.06 L226.42 503.04 L227.18 502.01 L227.92 500.97 L228.64 499.93 L229.35 498.87 L230.04 497.81 L230.72 496.74 L231.39 495.66 L232.04 494.57 L232.68 493.48 L233.31 492.38 L233.92 491.27 L234.52 490.15 L235.10 489.03 L235.68 487.91 L236.24 486.77 L236.80 485.63 L237.34 484.49 L237.87 483.34 L238.39 482.18 L238.90 481.02 L239.39 479.86 L239.88 478.69 L240.37 477.51 L240.84 476.33 L241.30 475.15 L241.76 473.96 L242.20 472.77 L242.64 471.58 L243.07 470.38 L243.50 469.18 L243.91 467.98 L244.33 466.77 L244.73 465.56 L245.13 464.35 L245.52 463.14 L245.91 461.93 L246.30 460.71 L246.67 459.49 L247.05 458.27 L247.42 457.05 L247.78 455.83 L248.15 454.61 L248.51 453.39 L248.86 452.17 L249.22 450.95 L249.57 449.73 L249.92 448.51 L250.27 447.29 L250.62 446.07 L250.97 444.85 L251.31 443.63 L251.66 442.41 L252.00 441.19 L252.34 439.98 L252.68 438.76 L253.02 437.55 L253.36 436.33 L253.70 435.12 L254.04 433.91 L254.38 432.69 L254.72 431.48 L255.06 430.26 L255.39 429.05 L255.73 427.84 L256.07 426.63 L256.40 425.41 L256.74 424.20 L257.08 422.98 L257.41 421.77 L257.75 420.56 L258.08 419.34 L258.42 418.13 L258.76 416.91 L259.09 415.70 L259.43 414.48 L259.77 413.26 L260.11 412.04 L260.45 410.83 L260.79 409.61 L261.13 408.39 L261.47 407.16 L261.81 405.94 L262.15 404.72 L262.49 403.49 L262.84 402.27 L263.18 401.04 L263.53 399.81 L263.88 398.58 L264.22 397.35 L264.57 396.12 L264.92 394.89 L265.28 393.65 L265.63 392.42 L265.98 391.18 L266.34 389.94 L266.70 388.69 L267.06 387.45 L267.43 386.21 L267.80 384.97 L268.18 383.73 L268.57 382.49 L268.97 381.26 L269.38 380.03 L269.81 378.82 L270.26 377.61 L270.72 376.41 L271.21 375.22 L271.71 374.04 L272.24 372.88 L272.80 371.73 L273.39 370.59 L274.00 369.48 L274.65 368.38 L275.32 367.30 L276.04 366.24 L276.79 365.20 L277.58 364.18 L278.40 363.19 L279.27 362.23 L280.19 361.29 L281.13 360.39 L282.12 359.54 L283.12 358.73 L284.16 357.99 L285.21 357.31 L286.29 356.70 L287.37 356.18 L288.46 355.74 L289.56 355.40 L290.66 355.17 L291.75 355.04 L292.84 355.03 L293.91 355.15 L294.96 355.41 L296.00 355.80 L297.01 356.34 L298.00 357.03 L298.96 357.83 L299.90 358.75 L300.81 359.76 L301.71 360.83 L302.59 361.96 L303.44 363.12 L304.28 364.31 L305.11 365.49 L305.91 366.65 L306.71 367.78 L307.50 368.87 L308.28 369.94 L309.07 370.97 L309.86 371.98 L310.66 372.96 L311.48 373.91 L312.30 374.85 L313.13 375.78 L313.96 376.69 L314.79 377.61 L315.63 378.52 L316.46 379.45 L317.28 380.38 L318.09 381.33 L318.90 382.30 L319.69 383.30 L320.46 384.33 L321.22 385.38 L321.97 386.46 L322.72 387.55 L323.46 388.64 L324.21 389.73 L324.97 390.80 L325.74 391.85 L326.53 392.86 L327.35 393.83 L328.19 394.76 L329.07 395.62 L329.98 396.41 L330.94 397.13 L331.95 397.76 L333.00 398.30 L334.12 398.73 L335.29 399.06 L336.52 399.30 L337.78 399.47 L339.06 399.58 L340.37 399.67 L341.67 399.75 L342.97 399.85 L344.25 399.98 L345.49 400.16 L346.69 400.41 L347.85 400.73 L348.97 401.12 L350.05 401.57 L351.10 402.09 L352.10 402.66 L353.07 403.30 L354.00 403.98 L354.90 404.72 L355.76 405.51 L356.60 406.35 L357.40 407.22 L358.17 408.14 L358.91 409.10 L359.63 410.09 L360.32 411.11 L360.99 412.16 L361.63 413.24 L362.25 414.34 L362.84 415.46 L363.42 416.60 L363.98 417.76 L364.51 418.93 L365.04 420.11 L365.54 421.30 L366.03 422.50 L366.51 423.70 L366.97 424.92 L367.43 426.14 L367.87 427.37 L368.31 428.61 L368.73 429.85 L369.15 431.09 L369.57 432.33 L369.98 433.58 L370.39 434.83 L370.80 436.08 L371.20 437.32 L371.61 438.57 L372.02 439.81 L372.43 441.05 L372.84 442.28 L373.27 443.51 L373.69 444.74 L374.13 445.95 L374.57 447.16 L375.03 448.36 L375.49 449.55 L375.97 450.73 L376.47 451.90 L376.97 453.06 L377.50 454.20 L378.04 455.33 L378.60 456.45 L379.17 457.55 L379.77 458.63 L380.40 459.70 L381.04 460.75 L381.71 461.78 L382.40 462.79 L383.12 463.78 L383.87 464.74 L384.65 465.69 L385.46 466.61 L386.30 467.50 L387.17 468.37 L388.06 469.19 L388.99 469.98 L389.94 470.73 L390.93 471.42 L391.93 472.07 L392.97 472.66 L394.03 473.19 L395.12 473.66 L396.23 474.06 L397.37 474.40 L398.54 474.65 L399.73 474.83 L400.94 474.92 L402.17 474.93 L403.43 474.87 L404.70 474.76 L405.98 474.61 L407.27 474.44 L408.56 474.26 L409.86 474.09 L411.16 473.93 L412.45 473.82 L413.73 473.75 L415.00 473.74 L416.27 473.78 L417.52 473.88 L418.76 474.02 L419.99 474.22 L421.22 474.46 L422.43 474.75 L423.63 475.09 L424.82 475.46 L426.00 475.88 L427.16 476.34 L428.32 476.84 L429.47 477.38 L430.60 477.95 L431.72 478.55 L432.83 479.19 L433.93 479.85 L435.02 480.55 L436.10 481.27 L437.16 482.02 L438.21 482.79 L439.25 483.59 L440.28 484.41 L441.29 485.25 L442.30 486.10 L443.29 486.97 L444.26 487.86 L445.23 488.76 L446.18 489.67 L447.12 490.60 L448.04 491.53 L448.95 492.47 L449.85 493.41 L450.74 494.36 L451.61 495.31 L452.47 496.26 L453.32 497.22 L454.17 498.17 L455.00 499.13 L455.83 500.08 L456.65 501.04 L457.48 501.99 L458.30 502.93 L459.11 503.88 L459.93 504.82 L460.75 505.75 L461.58 506.68 L462.40 507.60 L463.24 508.51 L464.08 509.41 L464.93 510.31 L465.79 511.19 L466.66 512.07 L467.54 512.93 L468.43 513.78 L469.34 514.62 L470.27 515.44 L471.21 516.25 L472.17 517.04 L473.15 517.82 L474.16 518.58 L475.18 519.32 L476.23 520.04 L477.31 520.74 L478.41 521.43 L479.54 522.09 L480.70 522.73 L481.89 523.35" fill="none" stroke="#0c6e1c" stroke-width="1.25" shape-rendering="crispEdges"/>
<path d="M75.5 519.9 l2.6 2.6 l-2.6 2.6 l-2.6 -2.6 z" fill="#fff" stroke="#b01018" stroke-width="1.5"/>
<path d="M109.5 469.9 l2.6 2.6 l-2.6 2.6 l-2.6 -2.6 z" fill="#fff" stroke="#b01018" stroke-width="1.5"/>
<path d="M146.5 397.9 l2.6 2.6 l-2.6 2.6 l-2.6 -2.6 z" fill="#fff" stroke="#b01018" stroke-width="1.5"/>
<path d="M181.5 358.9 l2.6 2.6 l-2.6 2.6 l-2.6 -2.6 z" fill="#fff" stroke="#b01018" stroke-width="1.5"/>
<path d="M220.5 358.9 l2.6 2.6 l-2.6 2.6 l-2.6 -2.6 z" fill="#fff" stroke="#b01018" stroke-width="1.5"/>
<path d="M258.5 364.9 l2.6 2.6 l-2.6 2.6 l-2.6 -2.6 z" fill="#fff" stroke="#b01018" stroke-width="1.5"/>
<path d="M294.5 386.9 l2.6 2.6 l-2.6 2.6 l-2.6 -2.6 z" fill="#fff" stroke="#b01018" stroke-width="1.5"/>
<path d="M333.5 441.9 l2.6 2.6 l-2.6 2.6 l-2.6 -2.6 z" fill="#fff" stroke="#b01018" stroke-width="1.5"/>
<path d="M380.5 474.9 l2.6 2.6 l-2.6 2.6 l-2.6 -2.6 z" fill="#fff" stroke="#b01018" stroke-width="1.5"/>
<path d="M423.5 502.9 l2.6 2.6 l-2.6 2.6 l-2.6 -2.6 z" fill="#fff" stroke="#b01018" stroke-width="1.5"/>
<path d="M469.5 513.9 l2.6 2.6 l-2.6 2.6 l-2.6 -2.6 z" fill="#fff" stroke="#b01018" stroke-width="1.5"/>
<path clip-path="url(#c281)" d="M75.48 522.49 L76.15 521.36 L76.82 520.23 L77.50 519.10 L78.19 517.97 L78.89 516.84 L79.59 515.71 L80.31 514.58 L81.03 513.46 L81.76 512.33 L82.49 511.20 L83.24 510.08 L83.98 508.95 L84.74 507.83 L85.50 506.71 L86.26 505.58 L87.03 504.46 L87.80 503.34 L88.57 502.21 L89.35 501.09 L90.13 499.96 L90.91 498.84 L91.69 497.72 L92.48 496.59 L93.26 495.47 L94.05 494.34 L94.84 493.21 L95.62 492.09 L96.41 490.96 L97.19 489.83 L97.98 488.70 L98.76 487.57 L99.54 486.44 L100.32 485.31 L101.09 484.18 L101.86 483.04 L102.63 481.91 L103.39 480.77 L104.15 479.63 L104.90 478.49 L105.64 477.35 L106.39 476.21 L107.12 475.06 L107.85 473.92 L108.57 472.77 L109.28 471.62 L109.99 470.47 L110.68 469.31 L111.37 468.16 L112.06 467.00 L112.73 465.84 L113.40 464.68 L114.07 463.52 L114.72 462.35 L115.37 461.19 L116.02 460.02 L116.65 458.85 L117.29 457.67 L117.92 456.50 L118.54 455.32 L119.16 454.14 L119.77 452.96 L120.38 451.78 L120.99 450.60 L121.59 449.41 L122.19 448.22 L122.78 447.03 L123.38 445.84 L123.97 444.65 L124.55 443.45 L125.14 442.25 L125.72 441.05 L126.30 439.85 L126.88 438.65 L127.46 437.45 L128.04 436.24 L128.61 435.03 L129.19 433.82 L129.76 432.61 L130.34 431.39 L130.91 430.18 L131.48 428.96 L132.06 427.74 L132.64 426.52 L133.21 425.30 L133.79 424.07 L134.37 422.84 L134.95 421.62 L135.54 420.38 L136.12 419.15 L136.71 417.92 L137.30 416.68 L137.89 415.44 L138.49 414.20 L139.09 412.96 L139.69 411.72 L140.30 410.47 L140.91 409.23 L141.53 407.98 L142.15 406.73 L142.77 405.48 L143.40 404.24 L144.04 402.99 L144.68 401.75 L145.34 400.51 L145.99 399.28 L146.66 398.05 L147.33 396.82 L148.02 395.60 L148.71 394.39 L149.41 393.19 L150.12 392.00 L150.84 390.81 L151.58 389.64 L152.32 388.47 L153.07 387.32 L153.84 386.18 L154.62 385.05 L155.41 383.94 L156.22 382.84 L157.04 381.76 L157.87 380.69 L158.72 379.64 L159.58 378.60 L160.45 377.59 L161.35 376.59 L162.26 375.61 L163.18 374.66 L164.12 373.72 L165.08 372.81 L166.06 371.92 L167.06 371.05 L168.07 370.21 L169.11 369.39 L170.16 368.60 L171.23 367.83 L172.32 367.09 L173.42 366.38 L174.54 365.69 L175.68 365.03 L176.83 364.40 L177.99 363.80 L179.17 363.23 L180.37 362.69 L181.57 362.18 L182.79 361.70 L184.02 361.25 L185.26 360.84 L186.52 360.45 L187.78 360.10 L189.05 359.78 L190.33 359.50 L191.62 359.25 L192.91 359.03 L194.22 358.85 L195.53 358.71 L196.84 358.60 L198.16 358.53 L199.49 358.50 L200.82 358.50 L202.15 358.53 L203.49 358.59 L204.83 358.69 L206.18 358.80 L207.53 358.94 L208.89 359.11 L210.24 359.29 L211.60 359.49 L212.97 359.70 L214.33 359.93 L215.70 360.18 L217.07 360.43 L218.44 360.68 L219.82 360.95 L221.19 361.21 L222.57 361.48 L223.94 361.75 L225.32 362.01 L226.70 362.27 L228.08 362.53 L229.46 362.77 L230.84 363.00 L232.21 363.22 L233.59 363.43 L234.97 363.64 L236.34 363.83 L237.72 364.02 L239.09 364.21 L240.46 364.40 L241.82 364.58 L243.18 364.77 L244.54 364.96 L245.89 365.15 L247.24 365.36 L248.59 365.56 L249.93 365.78 L251.26 366.01 L252.59 366.26 L253.91 366.51 L255.22 366.79 L256.53 367.08 L257.83 367.39 L259.12 367.72 L260.40 368.07 L261.68 368.45 L262.94 368.85 L264.20 369.27 L265.44 369.71 L266.68 370.17 L267.91 370.65 L269.13 371.16 L270.33 371.69 L271.53 372.24 L272.72 372.81 L273.89 373.40 L275.06 374.01 L276.21 374.64 L277.35 375.29 L278.48 375.96 L279.59 376.66 L280.70 377.37 L281.79 378.10 L282.87 378.85 L283.93 379.62 L284.98 380.41 L286.02 381.22 L287.05 382.05 L288.06 382.90 L289.05 383.77 L290.03 384.65 L291.00 385.56 L291.95 386.48 L292.88 387.42 L293.80 388.38 L294.71 389.36 L295.59 390.35 L296.47 391.37 L297.33 392.39 L298.17 393.44 L299.01 394.49 L299.83 395.56 L300.64 396.65 L301.44 397.74 L302.22 398.85 L303.00 399.97 L303.77 401.10 L304.53 402.24 L305.29 403.38 L306.04 404.54 L306.78 405.70 L307.51 406.87 L308.24 408.04 L308.97 409.22 L309.69 410.41 L310.41 411.60 L311.13 412.79 L311.84 413.98 L312.56 415.17 L313.27 416.37 L313.99 417.56 L314.70 418.76 L315.42 419.95 L316.14 421.14 L316.86 422.33 L317.59 423.51 L318.32 424.69 L319.05 425.86 L319.79 427.03 L320.54 428.20 L321.29 429.35 L322.05 430.50 L322.82 431.63 L323.60 432.76 L324.39 433.88 L325.19 434.99 L326.00 436.08 L326.82 437.17 L327.65 438.24 L328.49 439.30 L329.35 440.34 L330.21 441.37 L331.09 442.39 L331.98 443.40 L332.88 444.39 L333.80 445.37 L334.72 446.34 L335.66 447.29 L336.61 448.23 L337.57 449.16 L338.54 450.08 L339.52 450.98 L340.51 451.87 L341.52 452.74 L342.54 453.60 L343.56 454.45 L344.60 455.28 L345.65 456.10 L346.71 456.91 L347.79 457.71 L348.87 458.49 L349.97 459.25 L351.07 460.01 L352.19 460.75 L353.31 461.47 L354.45 462.19 L355.59 462.91 L356.74 463.61 L357.89 464.31 L359.04 465.01 L360.20 465.70 L361.36 466.40 L362.52 467.10 L363.68 467.80 L364.84 468.50 L366.00 469.21 L367.16 469.93 L368.31 470.65 L369.46 471.38 L370.61 472.11 L371.75 472.85 L372.90 473.59 L374.04 474.33 L375.18 475.08 L376.32 475.83 L377.46 476.59 L378.59 477.34 L379.73 478.10 L380.86 478.86 L382.00 479.63 L383.13 480.39 L384.27 481.15 L385.40 481.92 L386.53 482.68 L387.67 483.45 L388.80 484.21 L389.93 484.97 L391.07 485.74 L392.20 486.50 L393.34 487.25 L394.47 488.01 L395.61 488.76 L396.75 489.51 L397.88 490.26 L399.03 491.00 L400.17 491.74 L401.31 492.48 L402.46 493.21 L403.60 493.93 L404.75 494.65 L405.91 495.37 L407.06 496.07 L408.22 496.77 L409.38 497.47 L410.54 498.16 L411.70 498.83 L412.87 499.51 L414.04 500.17 L415.22 500.82 L416.39 501.47 L417.58 502.11 L418.76 502.73 L419.95 503.35 L421.14 503.96 L422.34 504.55 L423.54 505.14 L424.75 505.71 L425.96 506.28 L427.17 506.83 L428.39 507.36 L429.62 507.89 L430.85 508.40 L432.09 508.90 L433.33 509.39 L434.57 509.86 L435.83 510.31 L437.09 510.75 L438.35 511.18 L439.62 511.59 L440.90 511.99 L442.18 512.37 L443.47 512.73 L444.77 513.07 L446.07 513.40 L447.38 513.71 L448.70 514.01 L450.02 514.28 L451.35 514.54 L452.69 514.77 L454.04 514.99 L455.39 515.19 L456.76 515.37 L458.13 515.53 L459.51 515.66 L460.89 515.78 L462.29 515.88 L463.69 515.95 L465.11 516.00 L466.53 516.03 L467.96 516.04 L469.40 516.02" fill="none" stroke="#bb1219" stroke-width="1.25" shape-rendering="crispEdges"/>
<rect x="80.5" y="491.5" width="7" height="7" fill="#fff" stroke="#000" stroke-width="1"/>
<rect x="119.5" y="461.5" width="7" height="7" fill="#fff" stroke="#000" stroke-width="1"/>
<rect x="150.5" y="416.5" width="7" height="7" fill="#fff" stroke="#000" stroke-width="1"/>
<rect x="178.5" y="369.5" width="7" height="7" fill="#fff" stroke="#000" stroke-width="1"/>
<rect x="209.5" y="358.5" width="7" height="7" fill="#fff" stroke="#000" stroke-width="1"/>
<rect x="244.5" y="365.5" width="7" height="7" fill="#fff" stroke="#000" stroke-width="1"/>
<rect x="283.5" y="372.5" width="7" height="7" fill="#fff" stroke="#000" stroke-width="1"/>
<rect x="318.5" y="399.5" width="7" height="7" fill="#fff" stroke="#000" stroke-width="1"/>
<rect x="365.5" y="444.5" width="7" height="7" fill="#fff" stroke="#000" stroke-width="1"/>
<rect x="408.5" y="471.5" width="7" height="7" fill="#fff" stroke="#000" stroke-width="1"/>
<rect x="455.5" y="505.5" width="7" height="7" fill="#fff" stroke="#000" stroke-width="1"/>
<path clip-path="url(#c281)" d="M56.03 506.07 L57.35 505.75 L58.65 505.41 L59.96 505.04 L61.26 504.66 L62.55 504.26 L63.84 503.84 L65.13 503.41 L66.41 502.95 L67.69 502.48 L68.96 501.99 L70.23 501.48 L71.49 500.96 L72.75 500.42 L74.01 499.86 L75.26 499.29 L76.50 498.70 L77.74 498.10 L78.97 497.48 L80.19 496.85 L81.41 496.20 L82.63 495.54 L83.84 494.87 L85.04 494.18 L86.23 493.48 L87.42 492.76 L88.60 492.04 L89.78 491.30 L90.95 490.55 L92.11 489.78 L93.27 489.01 L94.41 488.22 L95.55 487.42 L96.69 486.62 L97.81 485.80 L98.93 484.97 L100.04 484.13 L101.14 483.28 L102.24 482.43 L103.32 481.56 L104.40 480.69 L105.47 479.80 L106.53 478.91 L107.58 478.01 L108.63 477.11 L109.66 476.20 L110.69 475.28 L111.70 474.35 L112.71 473.42 L113.71 472.48 L114.70 471.53 L115.68 470.58 L116.65 469.63 L117.61 468.67 L118.56 467.70 L119.50 466.73 L120.43 465.75 L121.35 464.77 L122.27 463.79 L123.17 462.79 L124.07 461.80 L124.96 460.79 L125.84 459.79 L126.71 458.77 L127.57 457.76 L128.43 456.73 L129.27 455.70 L130.12 454.67 L130.95 453.63 L131.77 452.59 L132.59 451.54 L133.40 450.48 L134.21 449.42 L135.00 448.35 L135.80 447.28 L136.58 446.20 L137.36 445.12 L138.13 444.03 L138.90 442.94 L139.66 441.84 L140.41 440.73 L141.16 439.62 L141.90 438.51 L142.64 437.39 L143.37 436.26 L144.10 435.13 L144.82 433.99 L145.54 432.84 L146.25 431.69 L146.96 430.54 L147.66 429.38 L148.36 428.21 L149.05 427.04 L149.74 425.86 L150.43 424.68 L151.11 423.49 L151.79 422.29 L152.47 421.09 L153.14 419.88 L153.81 418.67 L154.48 417.45 L155.14 416.23 L155.81 415.00 L156.46 413.76 L157.12 412.52 L157.78 411.27 L158.43 410.02 L159.08 408.76 L159.72 407.49 L160.37 406.22 L161.01 404.95 L161.66 403.66 L162.30 402.37 L162.94 401.08 L163.59 399.79 L164.23 398.50 L164.88 397.21 L165.53 395.92 L166.19 394.63 L166.85 393.35 L167.52 392.08 L168.19 390.81 L168.87 389.56 L169.56 388.31 L170.26 387.07 L170.96 385.85 L171.68 384.65 L172.41 383.45 L173.15 382.28 L173.91 381.12 L174.68 379.99 L175.46 378.87 L176.26 377.78 L177.07 376.71 L177.91 375.67 L178.76 374.65 L179.62 373.67 L180.51 372.71 L181.42 371.78 L182.35 370.88 L183.30 370.02 L184.27 369.19 L185.27 368.40 L186.29 367.64 L187.34 366.93 L188.41 366.25 L189.51 365.61 L190.63 365.02 L191.78 364.47 L192.97 363.97 L194.18 363.51 L195.41 363.10 L196.67 362.73 L197.96 362.41 L199.26 362.12 L200.58 361.88 L201.91 361.68 L203.26 361.51 L204.62 361.39 L205.98 361.30 L207.36 361.25 L208.74 361.24 L210.12 361.26 L211.50 361.31 L212.88 361.40 L214.26 361.52 L215.64 361.67 L217.01 361.84 L218.38 362.05 L219.75 362.27 L221.12 362.52 L222.49 362.79 L223.85 363.08 L225.21 363.39 L226.57 363.70 L227.93 364.03 L229.29 364.38 L230.65 364.72 L232.01 365.08 L233.37 365.44 L234.73 365.80 L236.09 366.17 L237.45 366.53 L238.81 366.89 L240.17 367.24 L241.54 367.59 L242.90 367.92 L244.27 368.25 L245.63 368.56 L247.00 368.86 L248.37 369.14 L249.75 369.40 L251.12 369.65 L252.50 369.88 L253.88 370.09 L255.26 370.30 L256.64 370.49 L258.01 370.68 L259.39 370.85 L260.77 371.03 L262.15 371.20 L263.52 371.37 L264.89 371.53 L266.26 371.70 L267.63 371.87 L268.99 372.05 L270.35 372.23 L271.71 372.42 L273.06 372.62 L274.41 372.83 L275.75 373.05 L277.08 373.29 L278.41 373.55 L279.74 373.82 L281.06 374.11 L282.37 374.42 L283.67 374.75 L284.96 375.11 L286.25 375.50 L287.53 375.91 L288.80 376.35 L290.05 376.82 L291.30 377.32 L292.54 377.85 L293.77 378.40 L294.98 378.98 L296.18 379.59 L297.37 380.23 L298.54 380.90 L299.70 381.59 L300.84 382.31 L301.97 383.06 L303.08 383.83 L304.18 384.62 L305.27 385.44 L306.35 386.28 L307.41 387.13 L308.46 388.01 L309.50 388.90 L310.54 389.80 L311.56 390.72 L312.58 391.65 L313.59 392.60 L314.59 393.55 L315.59 394.51 L316.58 395.48 L317.56 396.45 L318.55 397.43 L319.53 398.41 L320.51 399.39 L321.48 400.37 L322.46 401.35 L323.43 402.33 L324.41 403.31 L325.38 404.28 L326.36 405.25 L327.33 406.22 L328.31 407.18 L329.28 408.15 L330.25 409.12 L331.22 410.08 L332.19 411.05 L333.16 412.02 L334.13 412.99 L335.09 413.96 L336.05 414.93 L337.01 415.91 L337.97 416.89 L338.92 417.87 L339.87 418.86 L340.82 419.85 L341.77 420.85 L342.71 421.85 L343.66 422.85 L344.60 423.85 L345.54 424.85 L346.49 425.86 L347.43 426.86 L348.37 427.86 L349.32 428.86 L350.27 429.86 L351.22 430.85 L352.18 431.84 L353.13 432.83 L354.09 433.81 L355.06 434.79 L356.03 435.76 L357.01 436.73 L357.99 437.68 L358.98 438.63 L359.97 439.57 L360.97 440.51 L361.98 441.43 L363.00 442.34 L364.03 443.24 L365.06 444.13 L366.11 445.01 L367.16 445.88 L368.22 446.73 L369.30 447.57 L370.39 448.39 L371.48 449.20 L372.59 450.00 L373.70 450.79 L374.83 451.56 L375.96 452.33 L377.10 453.08 L378.25 453.83 L379.40 454.56 L380.56 455.29 L381.73 456.02 L382.90 456.73 L384.07 457.45 L385.25 458.15 L386.43 458.86 L387.61 459.56 L388.80 460.26 L389.98 460.96 L391.17 461.65 L392.36 462.35 L393.55 463.05 L394.73 463.75 L395.92 464.45 L397.10 465.15 L398.28 465.86 L399.46 466.58 L400.63 467.30 L401.80 468.02 L402.97 468.75 L404.13 469.49 L405.28 470.23 L406.44 470.98 L407.59 471.74 L408.73 472.50 L409.87 473.26 L411.01 474.03 L412.15 474.80 L413.28 475.58 L414.41 476.36 L415.53 477.15 L416.66 477.94 L417.78 478.73 L418.90 479.53 L420.02 480.33 L421.13 481.13 L422.24 481.94 L423.36 482.74 L424.47 483.55 L425.57 484.37 L426.68 485.18 L427.79 485.99 L428.89 486.81 L430.00 487.63 L431.10 488.44 L432.20 489.26 L433.31 490.08 L434.41 490.90 L435.51 491.72 L436.61 492.54 L437.72 493.36 L438.82 494.17 L439.92 494.99 L441.03 495.81 L442.13 496.62 L443.24 497.43 L444.34 498.24 L445.45 499.05 L446.56 499.86 L447.67 500.66 L448.79 501.47 L449.90 502.27 L451.02 503.06 L452.14 503.85 L453.26 504.64 L454.38 505.43 L455.51 506.20 L456.64 506.97 L457.78 507.73 L458.92 508.47 L460.08 509.19 L461.24 509.90 L462.41 510.58 L463.59 511.24 L464.78 511.87 L465.98 512.48 L467.20 513.05 L468.43 513.59 L469.68 514.09 L470.94 514.55 L472.22 514.97 L473.52 515.34 L474.83 515.67 L476.17 515.96 L477.53 516.19 L478.91 516.36 L480.31 516.48 L481.73 516.54 L483.18 516.54 L484.66 516.48 L486.16 516.35" fill="none" stroke="#000" stroke-width="1.25" shape-rendering="crispEdges"/>
<rect x="365.5" y="334.5" width="7" height="7" fill="#fff" stroke="#000" stroke-width="1"/>
<text class="s" x="399.0" y="339.0" textLength="30.6" lengthAdjust="spacingAndGlyphs">HpBP</text>
<path d="M368.5 357.9 l2.6 2.6 l-2.6 2.6 l-2.6 -2.6 z" fill="#fff" stroke="#b01018" stroke-width="1.5"/>
<text class="s" x="399.0" y="363.2" textLength="76.6" lengthAdjust="spacingAndGlyphs">ATIII (-) HpBP</text>
<circle cx="369.0" cy="385.0" r="2.7" fill="#fff" stroke="#0a6a16" stroke-width="2.6"/>
<text class="s" x="399.0" y="386.7" textLength="80.2" lengthAdjust="spacingAndGlyphs">ATIII (+) HpBP</text>
<text class="s" transform="translate(15.1 446.5) rotate(-90)" x="0" y="0" textLength="44.3" lengthAdjust="spacingAndGlyphs">Arbitrary</text>
<text class="h" x="5.6" y="328.6" textLength="12.6" lengthAdjust="spacingAndGlyphs">B.</text>
<text class="s" x="245.2" y="562.0" textLength="29.0" lengthAdjust="spacingAndGlyphs">[LiCl]</text>
</svg>
</body></html>
